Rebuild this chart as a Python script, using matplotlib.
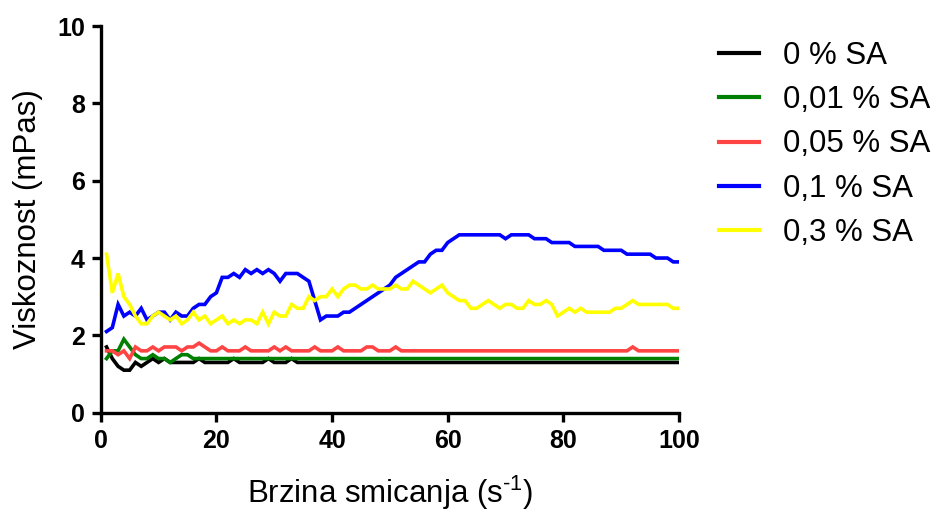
import numpy as np
import matplotlib
matplotlib.use("Agg")
import matplotlib.pyplot as plt

plt.rcParams['font.family'] = ['Liberation Sans', 'DejaVu Sans']
plt.rcParams['mathtext.fontset'] = 'custom'
plt.rcParams['mathtext.rm'] = 'Liberation Sans'
plt.rcParams['mathtext.default'] = 'regular'

shear_rate = list(range(1, 101))

sa_0 = [1.7, 1.4, 1.2, 1.1, 1.1, 1.3, 1.2, 1.3, 1.4, 1.3,
        1.4, 1.3, 1.3, 1.3, 1.3, 1.3, 1.4, 1.3, 1.3, 1.3,
        1.3, 1.3, 1.4, 1.3, 1.3, 1.3, 1.3, 1.3, 1.4, 1.3,
        1.3, 1.3, 1.4] + [1.3] * 67

sa_001 = [1.4, 1.6, 1.6, 1.9, 1.7, 1.5, 1.4, 1.4, 1.5, 1.4,
          1.4, 1.3, 1.4, 1.5, 1.5, 1.4] + [1.4] * 84

sa_005 = [1.6, 1.6, 1.5, 1.6, 1.4, 1.7, 1.6, 1.6, 1.7, 1.6,
          1.7, 1.7, 1.7, 1.6, 1.7, 1.7, 1.8, 1.7, 1.6, 1.6,
          1.7, 1.6, 1.6, 1.6, 1.7, 1.6, 1.6, 1.6, 1.6, 1.7,
          1.6, 1.7, 1.6, 1.6, 1.6, 1.6, 1.7, 1.6, 1.6, 1.6,
          1.7, 1.6, 1.6, 1.6, 1.6, 1.7, 1.7, 1.6, 1.6, 1.6,
          1.7, 1.6, 1.6, 1.6, 1.6, 1.6, 1.6, 1.6, 1.6, 1.6,
          1.6, 1.6, 1.6, 1.6, 1.6, 1.6, 1.6, 1.6, 1.6, 1.6,
          1.6, 1.6, 1.6, 1.6, 1.6, 1.6, 1.6, 1.6, 1.6, 1.6,
          1.6, 1.6, 1.6, 1.6, 1.6, 1.6, 1.6, 1.6, 1.6, 1.6,
          1.6, 1.7, 1.6, 1.6, 1.6, 1.6, 1.6, 1.6, 1.6, 1.6]

sa_01 = [2.1, 2.2, 2.8, 2.5, 2.6, 2.5, 2.7, 2.4, 2.5, 2.6,
         2.6, 2.4, 2.6, 2.5, 2.5, 2.7, 2.8, 2.8, 3.0, 3.1,
         3.5, 3.5, 3.6, 3.5, 3.7, 3.6, 3.7, 3.6, 3.7, 3.6,
         3.4, 3.6, 3.6, 3.6, 3.5, 3.4, 2.9, 2.4, 2.5, 2.5,
         2.5, 2.6, 2.6, 2.7, 2.8, 2.9, 3.0, 3.1, 3.2, 3.3,
         3.5, 3.6, 3.7, 3.8, 3.9, 3.9, 4.1, 4.2, 4.2, 4.4,
         4.5, 4.6, 4.6, 4.6, 4.6, 4.6, 4.6, 4.6, 4.6, 4.5,
         4.6, 4.6, 4.6, 4.6, 4.5, 4.5, 4.5, 4.4, 4.4, 4.4,
         4.4, 4.3, 4.3, 4.3, 4.3, 4.3, 4.2, 4.2, 4.2, 4.2,
         4.1, 4.1, 4.1, 4.1, 4.1, 4.0, 4.0, 4.0, 3.9, 3.9]

sa_03 = [4.1, 3.1, 3.6, 3.0, 2.8, 2.5, 2.3, 2.3, 2.5, 2.6,
         2.5, 2.4, 2.5, 2.3, 2.4, 2.6, 2.4, 2.5, 2.3, 2.4,
         2.5, 2.3, 2.4, 2.3, 2.4, 2.4, 2.3, 2.6, 2.3, 2.6,
         2.5, 2.5, 2.8, 2.7, 2.7, 3.0, 2.9, 3.0, 3.0, 3.2,
         3.0, 3.2, 3.3, 3.3, 3.2, 3.2, 3.3, 3.2, 3.2, 3.2,
         3.3, 3.2, 3.2, 3.4, 3.3, 3.2, 3.1, 3.2, 3.3, 3.1,
         3.0, 2.9, 2.9, 2.7, 2.7, 2.8, 2.9, 2.8, 2.7, 2.8,
         2.8, 2.7, 2.7, 2.9, 2.8, 2.8, 2.9, 2.8, 2.5, 2.6,
         2.7, 2.6, 2.7, 2.6, 2.6, 2.6, 2.6, 2.6, 2.7, 2.7,
         2.8, 2.9, 2.8, 2.8, 2.8, 2.8, 2.8, 2.8, 2.7, 2.7]

labels = ['0 % SA', '0,01 % SA', '0,05 % SA', '0,1 % SA', '0,3 % SA']
colors = ['#000000', '#008000', '#FF4444', '#0000FF', '#FFFF00']
series = [sa_0, sa_001, sa_005, sa_01, sa_03]

fig = plt.figure(figsize=(9.38, 5.13), dpi=100)
ax = fig.add_axes([0.1074, 0.1955, 0.6165, 0.7538])

for ys, c, lab in zip(series, colors, labels):
    ax.plot(shear_rate, ys, color=c, lw=2.6, label=lab, solid_joinstyle='miter')

ax.set_xlim(0, 100)
ax.set_ylim(0, 10)
ax.set_xticks([0, 20, 40, 60, 80, 100])
ax.set_yticks([0, 2, 4, 6, 8, 10])
for s in ['top', 'right']:
    ax.spines[s].set_visible(False)
for s in ['left', 'bottom']:
    ax.spines[s].set_linewidth(2.4)
ax.tick_params(direction='out', length=6.5, width=2.4, labelsize=18, pad=5)
for t in ax.get_xticklabels() + ax.get_yticklabels():
    t.set_fontweight('bold')

ax.set_xlabel(r'Brzina smicanja (s$^{\text{-}1}$)', fontsize=22.5, labelpad=15)
ax.set_ylabel('Viskoznost (mPas)', fontsize=22.5, labelpad=10)

leg = ax.legend(loc='upper left', bbox_to_anchor=(0.766, 0.92),
                bbox_transform=fig.transFigure, frameon=False,
                fontsize=22.5, handlelength=1.3, handletextpad=0.75,
                labelspacing=0.455, borderpad=0, borderaxespad=0)
for l in leg.get_lines():
    l.set_linewidth(3.0)

fig.savefig('out.png', dpi=100)
